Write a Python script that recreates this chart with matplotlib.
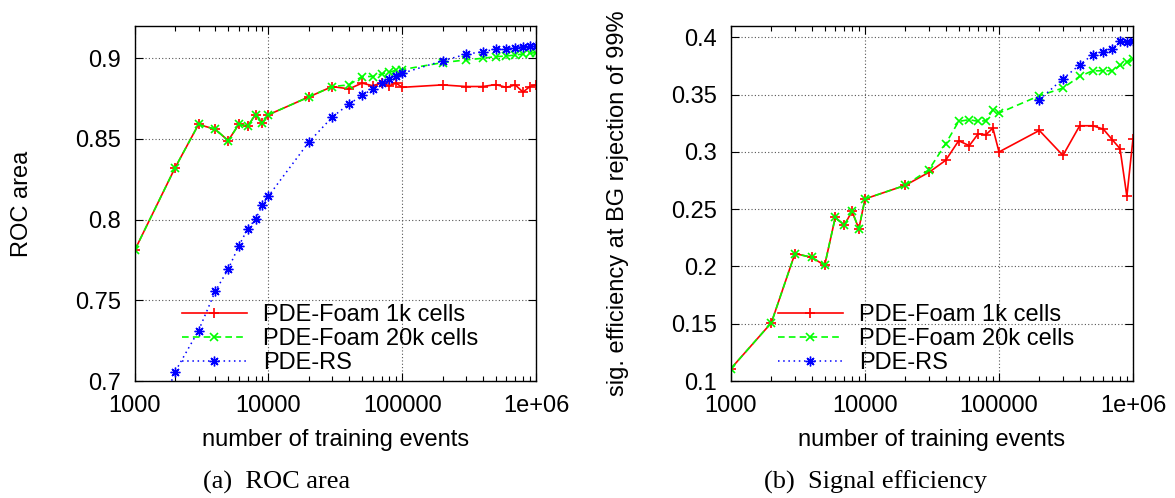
import numpy as np
import matplotlib
matplotlib.use("Agg")
import matplotlib.pyplot as plt
from matplotlib.ticker import FixedLocator, FixedFormatter, LogLocator, NullFormatter

# ---------------- data ----------------
n_events = [1000, 2000, 3000, 4000, 5000, 6000, 7000, 8000, 9000,
            10000, 20000, 30000, 40000, 50000, 60000, 70000, 80000, 90000,
            100000, 200000, 300000, 400000, 500000, 600000, 700000, 800000, 900000,
            1000000]

roc_1k = [0.781, 0.832, 0.859, 0.856, 0.849, 0.859, 0.858, 0.865, 0.860,
          0.865, 0.876, 0.8825, 0.881, 0.8846, 0.883, 0.8846, 0.883, 0.8846,
          0.882, 0.8835, 0.8825, 0.8825, 0.8837, 0.882, 0.8835, 0.879, 0.8825,
          0.8835]
roc_20k = [0.781, 0.832, 0.859, 0.856, 0.849, 0.859, 0.858, 0.865, 0.860,
           0.865, 0.876, 0.8825, 0.8835, 0.8887, 0.8887, 0.8903, 0.8912, 0.8928,
           0.893, 0.8973, 0.899, 0.900, 0.901, 0.9014, 0.902, 0.9027, 0.9031,
           0.9035]
roc_rs = [0.64, 0.7056, 0.7312, 0.7556, 0.7693, 0.7837, 0.7944, 0.8002, 0.809,
          0.8146, 0.848, 0.8636, 0.8716, 0.877, 0.8809, 0.8846, 0.8872, 0.8891,
          0.8907, 0.8984, 0.9025, 0.9041, 0.9056, 0.906, 0.9066, 0.9072, 0.9076,
          0.9078]

eff_1k = [0.1109, 0.1508, 0.2113, 0.208, 0.201, 0.2429, 0.236, 0.2482, 0.233,
          0.259, 0.2709, 0.2822, 0.2927, 0.3098, 0.3055, 0.3159, 0.3151, 0.3209,
          0.300, 0.3188, 0.297, 0.3229, 0.3229, 0.320, 0.3107, 0.3029, 0.2613,
          0.3116]
eff_20k = [0.1109, 0.1508, 0.2113, 0.208, 0.201, 0.2429, 0.236, 0.2482, 0.233,
           0.259, 0.2709, 0.2845, 0.3072, 0.3267, 0.3282, 0.3267, 0.3273, 0.3369,
           0.334, 0.3491, 0.3558, 0.366, 0.3709, 0.3709, 0.3709, 0.3756, 0.3785,
           0.3811]
n_events_rs_eff = [200000, 300000, 400000, 500000, 600000, 700000, 800000, 900000, 1000000]
eff_rs = [0.3456, 0.3639, 0.3761, 0.3849, 0.3872, 0.3901, 0.3965, 0.3959, 0.3965]

x_ticks = [1000, 10000, 100000, 1000000]
x_ticklabels = ["1000", "10000", "100000", "1e+06"]
roc_ticks = [0.7, 0.75, 0.8, 0.85, 0.9]
roc_ticklabels = ["0.7", "0.75", "0.8", "0.85", "0.9"]
eff_ticks = [0.1, 0.15, 0.2, 0.25, 0.3, 0.35, 0.4]
eff_ticklabels = ["0.1", "0.15", "0.2", "0.25", "0.3", "0.35", "0.4"]

labels = ["PDE-Foam 1k cells", "PDE-Foam 20k cells", "PDE-RS"]
captions = ["(a)  ROC area", "(b)  Signal efficiency"]
ylabels = ["ROC area", "sig. efficiency at BG rejection of 99%"]
xlabel = "number of training events"

# ---------------- style ----------------
FS = 17
plt.rcParams['font.family'] = ['Liberation Sans', 'DejaVu Sans']
plt.rcParams['font.size'] = FS

W, H = 1175, 498
fig = plt.figure(figsize=(W / 100, H / 100), dpi=100)

def px_axes(l, r, t, b):
    return [l / W, 1 - b / H, (r - l) / W, (b - t) / H]

ax1 = fig.add_axes(px_axes(134.7, 536, 26, 381))
ax2 = fig.add_axes(px_axes(731, 1133, 26, 381))

red_kw = dict(color='#ff0000', ls='-', lw=1.2, marker='+', ms=7, mew=1.2)
green_kw = dict(color='#00ff00', ls=(0, (4, 2.5)), lw=1.2, marker='x', ms=5.5, mew=1.2)
blue_kw = dict(color='#0000ff', ls=(0, (1, 2.4)), lw=1.1, marker=(8, 2, 0), ms=7, mew=1.0)

def style(ax, yticks, yticklabels, ylim, ylabel, leg_x):
    ax.set_xscale('log')
    ax.set_xlim(1000, 1000000)
    ax.set_ylim(*ylim)
    ax.xaxis.set_major_locator(FixedLocator(x_ticks))
    ax.xaxis.set_major_formatter(FixedFormatter(x_ticklabels))
    ax.xaxis.set_minor_locator(LogLocator(base=10, subs=np.arange(2, 10)))
    ax.xaxis.set_minor_formatter(NullFormatter())
    ax.yaxis.set_major_locator(FixedLocator(yticks))
    ax.yaxis.set_major_formatter(FixedFormatter(yticklabels))
    ax.tick_params(which='both', direction='in', top=True, right=True,
                   labelsize=FS, width=0.8, color='black')
    ax.tick_params(which='major', length=6, pad=10)
    ax.tick_params(which='minor', length=3.5)
    ax.grid(True, which='major', color='#555555', ls=(0, (1, 2)), lw=0.8)
    for s in ax.spines.values():
        s.set_linewidth(1.0)
        s.set_color('black')
    ax.set_xlabel(xlabel, fontsize=FS, va='center')
    ax.xaxis.set_label_coords(0.5, -0.166)
    ax.set_ylabel(ylabel, fontsize=FS, va='center')
    ax.yaxis.set_label_coords(-0.282, 0.5)
    ax.legend(loc='center left', bbox_to_anchor=(leg_x / W, 1 - 339 / H),
              bbox_transform=fig.transFigure, frameon=False,
              fontsize=FS, handlelength=2.75, handletextpad=0.68,
              labelspacing=0.08, borderpad=0.0, borderaxespad=0.0,
              numpoints=1)

ax1.plot(n_events, roc_1k, label=labels[0], **red_kw)
ax1.plot(n_events, roc_20k, label=labels[1], **green_kw)
ax1.plot(n_events, roc_rs, label=labels[2], **blue_kw)
style(ax1, roc_ticks, roc_ticklabels, (0.7, 0.92), ylabels[0], 181.7)

ax2.plot(n_events, eff_1k, label=labels[0], **red_kw)
ax2.plot(n_events, eff_20k, label=labels[1], **green_kw)
ax2.plot(n_events_rs_eff, eff_rs, label=labels[2], **blue_kw)
style(ax2, eff_ticks, eff_ticklabels, (0.1, 0.41), ylabels[1], 777.7)

fig.text(277 / W, 1 - 482 / H, captions[0], family=['Liberation Serif', 'DejaVu Serif'],
         fontsize=19, ha='center', va='center')
fig.text(875 / W, 1 - 482 / H, captions[1], family=['Liberation Serif', 'DejaVu Serif'],
         fontsize=19, ha='center', va='center')

fig.savefig('out.png', dpi=100)
